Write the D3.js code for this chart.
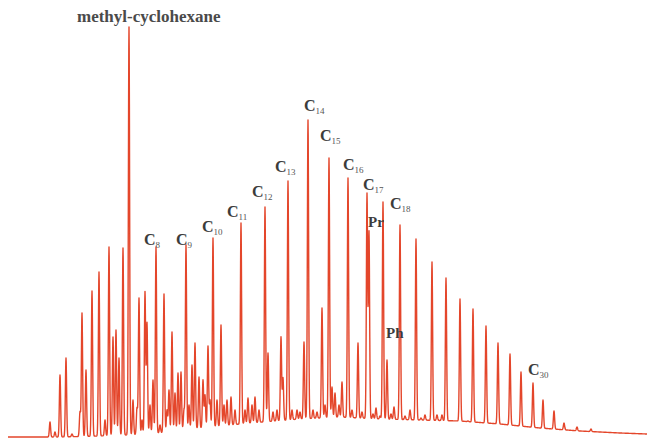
<!DOCTYPE html>
<html><head><meta charset="utf-8">
<script src="https://cdn.jsdelivr.net/npm/d3@7"></script>
<style>html,body{margin:0;padding:0;background:#fff;}svg{display:block;}</style>
</head><body>
<script>
// Retention position (arbitrary units) of each peak apex
const peakTimes = [50,55,60,66,72,80,82,86,92,99,105,109,113,116,119,123,129,133,137,139,142,145,147,150,153,156,160,164,167,169,172,175,178,181,184,186,189,192,195,199,203,205,208,210,213,217,221,224,227,231,235,241,245,248,252,255,259,265,268,273,277,281,283,288,292,297,300,304,308,313,317,322,325,329,332,335,339,342,348,352,358,362,367,369,373,376,380,383,387,391,394,400,405,410,416,421,425,432,437,442,446,453,460,468,473,481,486,493,498,506,510,521,533,543,554,564,577,591];
// Apex signal (arbitrary units, 0 = instrument zero)
const peakHeights = [15,5,62,79,3,25,124,67,146,165,17,190,100,107,79,189,410,37,29,139,17,145,114,32,57,190,12,143,27,47,105,44,64,65,27,192,32,72,94,60,57,42,91,37,199,37,112,32,37,40,27,214,27,39,32,40,27,230,84,25,27,100,59,256,27,27,25,95,317,27,25,129,32,279,50,44,32,55,259,27,94,25,243,205,23,29,21,235,77,23,30,212,21,27,198,19,22,175,22,22,159,16,138,16,128,13,111,13,94,12,83,65,54,37,26,14,10,8];
// Baseline hump of the trace
const baseTimes  = [8, 60, 100, 150, 200, 250, 300, 340, 380, 420, 460, 500, 540, 580, 620, 647];
const baseValues = [0, 0, 1, 3, 9, 14, 18, 20, 18, 17, 16, 13, 9, 6, 4, 3];
// Peak labels
const labelNames = ["C","C","C","C","C","C","C","C","C","C","C","Pr","Ph"];
const labelSubs  = ["8","9","10","11","12","13","14","15","16","17","18","",""];
const labelTimes = [144,176,202,227,252,275,304,320,343,363,390,368,386];
const labelTops  = [192,192,205,220,240,265,326,296,267,247,228,210,99];
const cLabel30 = {name:"C", sub:"30", t:528, v:62};
const compoundLabel = "methyl-cyclohexane";

const W = 647, H = 441;
const svg = d3.select("body").append("svg").attr("width", W).attr("height", H);
const x = d3.scaleLinear().domain([0, 647]).range([0, 647]);
const y = d3.scaleLinear().domain([0, 410]).range([437, 27]);

const baseAt = d3.scaleLinear().domain(baseTimes).range(baseValues).clamp(true);
const peaks = peakTimes.map((t, i) => ({t, h: peakHeights[i]}));
const sigma = 0.62;
const samples = d3.range(8, 647.01, 0.2).map(t => {
  let v = baseAt(t);
  for (const p of peaks) {
    const d = t - p.t;
    if (Math.abs(d) < 4) v += Math.max(0, p.h - baseAt(p.t)) * Math.exp(-d*d/(2*sigma*sigma));
  }
  return [t, v];
});

svg.append("path")
  .datum(samples)
  .attr("fill", "none")
  .attr("stroke", "#e4462b")
  .attr("stroke-width", 1.4)
  .attr("stroke-linejoin", "round")
  .attr("d", d3.line().x(d => x(d[0])).y(d => y(d[1])));

const font = "'Liberation Serif','Times New Roman',serif";
svg.append("text").attr("x", 77).attr("y", 22)
  .attr("font-family", font).attr("font-size", 17).attr("font-weight", "bold")
  .attr("fill", "#4a4a4a").text(compoundLabel);

const labels = labelNames.map((n, i) => ({name: n, sub: labelSubs[i], t: labelTimes[i], v: labelTops[i]}));
labels.push(cLabel30);
labels.forEach(l => {
  const tx = svg.append("text").attr("x", x(l.t)).attr("y", y(l.v))
    .attr("font-family", font).attr("fill", "#3c3c3c");
  tx.append("tspan").attr("font-size", l.name === "C" ? 16 : 15).attr("font-weight", "bold").text(l.name);
  if (l.sub) tx.append("tspan").attr("font-size", 9).attr("dy", 3).attr("fill", "#555").text(l.sub);
});
</script>
</body></html>
